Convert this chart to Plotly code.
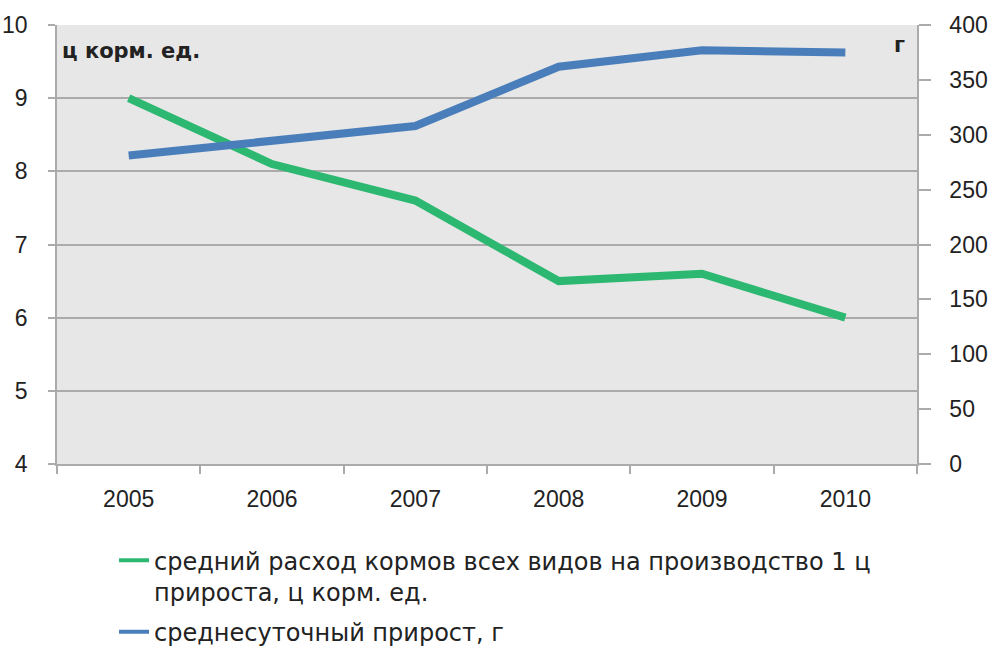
import plotly.graph_objects as go

# Years on the category axis
years = ["2005", "2006", "2007", "2008", "2009", "2010"]

# Average feed consumption per 1 centner of gain, centner feed units
feed_use = [9.0, 8.1, 7.6, 6.5, 6.6, 6.0]

# Average daily gain, grams
daily_gain = [281, 295, 308, 362, 377, 375]

feed_name = "средний расход кормов всех видов на производство 1 ц<br>прироста, ц корм. ед."
gain_name = "среднесуточный прирост, г"

GREEN = "#2db872"
BLUE = "#4a7ebb"
GRID = "#ababab"
TICK_FONT = dict(family="Liberation Sans, Arial, sans-serif", size=23, color="#222222")
LABEL_FONT = dict(family="DejaVu Sans, sans-serif", size=21, color="#222222")

fig = go.Figure()
# Plotted series (thick lines), kept out of the legend
fig.add_trace(go.Scatter(
    x=years, y=feed_use, name=feed_name, mode="lines",
    line=dict(color=GREEN, width=8), yaxis="y", showlegend=False,
))
fig.add_trace(go.Scatter(
    x=years, y=daily_gain, name=gain_name, mode="lines",
    line=dict(color=BLUE, width=8), yaxis="y2", showlegend=False,
))
# Empty entries that only provide thinner legend keys
fig.add_trace(go.Scatter(
    x=[None], y=[None], name=feed_name, mode="lines", legendgroup="feed",
    line=dict(color=GREEN, width=4), yaxis="y", hoverinfo="skip",
))
fig.add_trace(go.Scatter(
    x=[None], y=[None], name=gain_name, mode="lines", legendgroup="gain",
    line=dict(color=BLUE, width=4), yaxis="y2", hoverinfo="skip",
))

fig.update_layout(
    width=988, height=650,
    margin=dict(l=57, r=71, t=25, b=186, autoexpand=False),
    paper_bgcolor="white",
    plot_bgcolor="#e7e7e7",
    showlegend=True,
    legend=dict(
        orientation="v", x=0.1154, y=0.172, xref="container", yref="container",
        xanchor="left", yanchor="top",
        font=dict(family="DejaVu Sans, sans-serif", size=24, color="#222222"),
        valign="top", traceorder="grouped", tracegroupgap=6,
        bgcolor="rgba(0,0,0,0)", itemclick=False, itemdoubleclick=False,
    ),
    xaxis=dict(
        type="category", tickson="boundaries", automargin=False,
        ticks="outside", ticklen=8, tickcolor=GRID, tickwidth=1.5,
        showline=True, linecolor=GRID, linewidth=1.5,
        showgrid=False, tickfont=TICK_FONT, ticklabelstandoff=14,
        range=[-0.5, 5.5],
    ),
    yaxis=dict(
        range=[4, 10], dtick=1, tick0=4, automargin=False,
        ticks="outside", ticklen=7, tickcolor=GRID, tickwidth=1.5,
        showline=True, linecolor=GRID, linewidth=1.5,
        showgrid=True, gridcolor=GRID, gridwidth=1.5,
        zeroline=False, tickfont=TICK_FONT, ticklabelstandoff=16,
    ),
    yaxis2=dict(
        range=[0, 400], dtick=50, tick0=0, automargin=False,
        overlaying="y", side="right",
        ticks="outside", ticklen=12, tickcolor=GRID, tickwidth=1.5,
        showline=True, linecolor=GRID, linewidth=1.5,
        showgrid=False, zeroline=False, tickfont=TICK_FONT, ticklabelstandoff=14,
    ),
    annotations=[
        dict(text="<b>ц корм. ед.</b>", xref="paper", yref="paper",
             x=0.004, y=0.94, xanchor="left", yanchor="middle", showarrow=False,
             font=LABEL_FONT),
        dict(text="<b>г</b>", xref="paper", yref="paper",
             x=0.988, y=0.955, xanchor="right", yanchor="middle", showarrow=False,
             font=LABEL_FONT),
    ],
)

fig.write_html("out.html")
